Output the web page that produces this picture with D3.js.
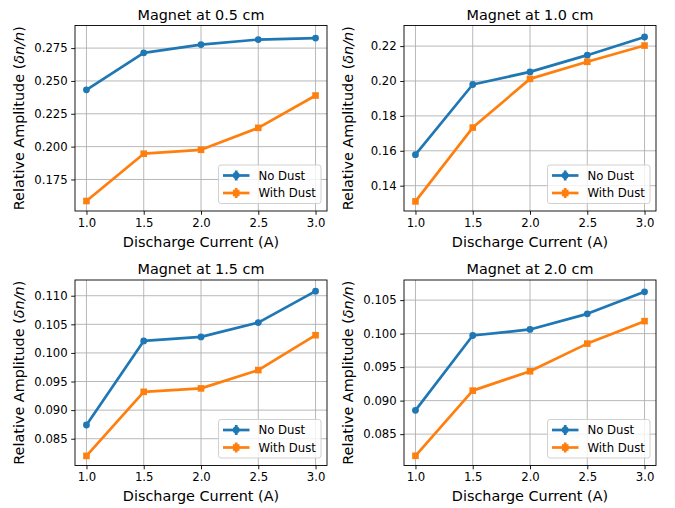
<!DOCTYPE html>
<html>
<head>
<meta charset="utf-8">
<script src="https://cdn.jsdelivr.net/npm/d3@7"></script>
<style>
  html, body { margin: 0; padding: 0; background: #fff; }
  svg { display: block; font-family: "DejaVu Sans", sans-serif; }
</style>
</head>
<body>
<svg id="fig" width="675" height="508"></svg>
<script>
// Discharge currents (A) shared by every panel
const currents = [1.0, 1.5, 2.0, 2.5, 3.0];
const xTicks = [1.0, 1.5, 2.0, 2.5, 3.0];

// Panel titles
const titles = ["Magnet at 0.5 cm", "Magnet at 1.0 cm", "Magnet at 1.5 cm", "Magnet at 2.0 cm"];

// Relative amplitude without dust, one array per magnet position
const noDust05 = [0.2432, 0.2714, 0.2777, 0.2815, 0.2826];
const noDust10 = [0.1578, 0.1980, 0.2052, 0.2148, 0.2252];
const noDust15 = [0.0874, 0.1021, 0.1028, 0.1053, 0.1108];
const noDust20 = [0.08855, 0.09972, 0.10062, 0.10295, 0.10624];

// Relative amplitude with dust
const withDust05 = [0.1586, 0.1946, 0.1976, 0.2143, 0.2389];
const withDust10 = [0.1310, 0.1733, 0.2012, 0.2110, 0.2203];
const withDust15 = [0.0820, 0.0932, 0.0938, 0.0970, 0.1031];
const withDust20 = [0.08177, 0.09149, 0.09438, 0.09851, 0.10186];

// Y tick values per panel
const yTicks05 = [0.175, 0.200, 0.225, 0.250, 0.275];
const yTicks10 = [0.14, 0.16, 0.18, 0.20, 0.22];
const yTicks15 = [0.085, 0.090, 0.095, 0.100, 0.105, 0.110];
const yTicks20 = [0.085, 0.090, 0.095, 0.100, 0.105];

// Y ranges per panel (autoscaled with padding)
const yRange05 = [0.1510, 0.2922];
const yRange10 = [0.1255, 0.2318];
const yRange15 = [0.08032, 0.11275];
const yRange20 = [0.08032, 0.10800];

const seriesNames = ["No Dust", "With Dust"];

const panels = [
  { title: titles[0], noDust: noDust05, withDust: withDust05, ticks: yTicks05, range: yRange05, fmt: ".3f" },
  { title: titles[1], noDust: noDust10, withDust: withDust10, ticks: yTicks10, range: yRange10, fmt: ".2f" },
  { title: titles[2], noDust: noDust15, withDust: withDust15, ticks: yTicks15, range: yRange15, fmt: ".3f" },
  { title: titles[3], noDust: noDust20, withDust: withDust20, ticks: yTicks20, range: yRange20, fmt: ".3f" }
];

const BLUE = "#1f77b4", ORANGE = "#ff7f0e";
const colLeft = [75, 404], rowTop = [25.5, 280];
const W = 252, H = 185.5;
const LABEL_FS = 14.4, TICK_FS = 11.7, LW = 2.7;

const svg = d3.select("#fig");

panels.forEach((p, i) => {
  const left = colLeft[i % 2], top = rowTop[Math.floor(i / 2)];
  const g = svg.append("g").attr("transform", `translate(${left},${top})`);

  const x = d3.scaleLinear().domain([0.9, 3.1]).range([0, W]);
  const y = d3.scaleLinear().domain(p.range).range([H, 0]);

  // grid
  g.append("g").selectAll("line").data(xTicks).join("line")
    .attr("x1", d => x(d)).attr("x2", d => x(d)).attr("y1", 0).attr("y2", H)
    .attr("stroke", "#b0b0b0").attr("stroke-width", 0.9);
  g.append("g").selectAll("line").data(p.ticks).join("line")
    .attr("x1", 0).attr("x2", W).attr("y1", d => y(d)).attr("y2", d => y(d))
    .attr("stroke", "#b0b0b0").attr("stroke-width", 0.9);

  // axes
  const xAxis = g.append("g").attr("transform", `translate(0,${H})`)
    .call(d3.axisBottom(x).tickValues(xTicks).tickFormat(d3.format(".1f")).tickSize(3.8).tickPadding(3.5));
  const yAxis = g.append("g")
    .call(d3.axisLeft(y).tickValues(p.ticks).tickFormat(d3.format(p.fmt)).tickSize(3.8).tickPadding(3.5));
  [xAxis, yAxis].forEach(a => {
    a.select(".domain").remove();
    a.selectAll("line").attr("stroke", "#000").attr("stroke-width", 0.9);
    a.selectAll("text").attr("fill", "#000").attr("font-size", TICK_FS)
      .attr("font-family", "DejaVu Sans, sans-serif");
  });

  // series lines and markers
  const line = d3.line().x((d, k) => x(currents[k])).y(d => y(d));
  g.append("path").datum(p.noDust).attr("d", line)
    .attr("fill", "none").attr("stroke", BLUE).attr("stroke-width", LW).attr("stroke-linejoin", "round");
  g.append("path").datum(p.withDust).attr("d", line)
    .attr("fill", "none").attr("stroke", ORANGE).attr("stroke-width", LW).attr("stroke-linejoin", "round");
  g.append("g").selectAll("circle").data(p.noDust).join("circle")
    .attr("cx", (d, k) => x(currents[k])).attr("cy", d => y(d)).attr("r", 3.4).attr("fill", BLUE);
  g.append("g").selectAll("rect").data(p.withDust).join("rect")
    .attr("x", (d, k) => x(currents[k]) - 3.3).attr("y", d => y(d) - 3.3)
    .attr("width", 6.6).attr("height", 6.6).attr("fill", ORANGE);

  // frame
  g.append("rect").attr("x", 0).attr("y", 0).attr("width", W).attr("height", H)
    .attr("fill", "none").attr("stroke", "#000").attr("stroke-width", 0.9);

  // title and labels
  g.append("text").attr("x", W / 2).attr("y", -6).attr("text-anchor", "middle")
    .attr("font-size", LABEL_FS).attr("fill", "#000").text(p.title);
  g.append("text").attr("x", W / 2).attr("y", H + 35.5).attr("text-anchor", "middle")
    .attr("font-size", LABEL_FS).attr("fill", "#000").text("Discharge Current (A)");
  const yl = g.append("text").attr("transform", `translate(-51.5,${H / 2}) rotate(-90)`)
    .attr("text-anchor", "middle").attr("font-size", LABEL_FS).attr("fill", "#000");
  yl.append("tspan").text("Relative Amplitude (");
  yl.append("tspan").attr("font-style", "italic").text("δn/n");
  yl.append("tspan").text(")");

  // legend
  const lw = 102.5, lh = 38.5;
  const lg = g.append("g").attr("transform", `translate(${W - 6 - lw},${H - 7.5 - lh})`);
  lg.append("rect").attr("width", lw).attr("height", lh).attr("rx", 2.5)
    .attr("fill", "#fff").attr("fill-opacity", 0.8).attr("stroke", "#cccccc").attr("stroke-width", 0.9);
  [[BLUE, "circle"], [ORANGE, "square"]].forEach(([c, m], k) => {
    const cy = 10.5 + k * 17.5;
    const e = lg.append("g");
    e.append("line").attr("x1", 4.5).attr("x2", 31).attr("y1", cy).attr("y2", cy)
      .attr("stroke", c).attr("stroke-width", LW);
    e.append("line").attr("x1", 17.7).attr("x2", 17.7).attr("y1", cy - 5).attr("y2", cy + 5)
      .attr("stroke", c).attr("stroke-width", LW);
    if (m === "circle") e.append("circle").attr("cx", 17.7).attr("cy", cy).attr("r", 3.4).attr("fill", c);
    else e.append("rect").attr("x", 14.4).attr("y", cy - 3.3).attr("width", 6.6).attr("height", 6.6).attr("fill", c);
    e.append("text").attr("x", 40).attr("y", cy + 4.2).attr("font-size", TICK_FS).attr("fill", "#000").text(seriesNames[k]);
  });
});
</script>
</body>
</html>
